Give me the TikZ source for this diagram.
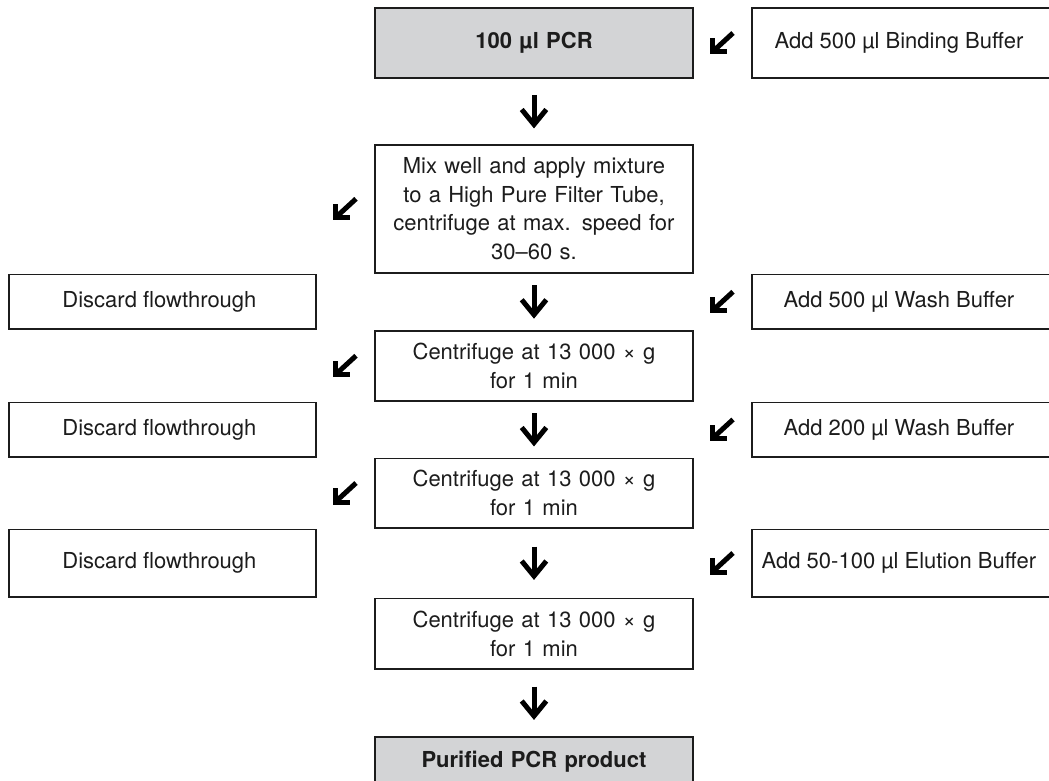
\documentclass[tikz,border=0pt]{standalone}
\usepackage{fontspec}
\setmainfont{TeX Gyre Heros}
\usetikzlibrary{matrix}
\definecolor{pcrgrey}{RGB}{211,212,214}
\definecolor{inkblack}{RGB}{28,28,28}
\newcommand\stepfont{\fontsize{22pt}{28.5pt}\selectfont}
\tikzset{
    stepbox/.style={draw=inkblack, line width=1.8pt},
    endbox/.style={stepbox, fill=pcrgrey, font={\stepfont\bfseries}},
    arrowstroke/.style={draw=black, line width=5pt, line join=miter}
}
\def\DownArrow#1{
    \draw[arrowstroke] ([yshift=16.5pt]#1) -- ([yshift=-11pt]#1);
    \draw[arrowstroke] ([shift={(-12.3pt,2pt)}]#1) -- ([yshift=-13pt]#1) -- ([shift={(12.3pt,2pt)}]#1);
}
\def\SlantArrow#1{
    \draw[arrowstroke] ([shift={(10.5pt,10pt)}]#1) -- ([shift={(-8pt,-7pt)}]#1);
    \draw[arrowstroke] ([shift={(4pt,-9pt)}]#1) -- ([shift={(-10pt,-9pt)}]#1) -- ([shift={(-10pt,5pt)}]#1);
}
\def\Protocol{
    \matrix (flow)
    [matrix of nodes,
    nodes in empty cells,
    ampersand replacement=\&,
    anchor=north west,
    inner sep=0pt, outer sep=0pt,
    column sep={0pt},
    row sep={0pt},
    nodes={outer sep=0pt, inner sep=4pt, anchor=center, align=center, text=inkblack, font=\stepfont},
    column 1/.style={nodes={minimum width=307pt}},
    column 2/.style={nodes={minimum width=57.2pt}},
    column 3/.style={nodes={minimum width=318pt, text width=304pt}},
    column 4/.style={nodes={minimum width=57.2pt}},
    column 5/.style={nodes={minimum width=300pt}},
    row 1/.style={nodes={minimum height=70pt}},
    row 2/.style={nodes={minimum height=65.2pt}},
    row 3/.style={nodes={minimum height=127.6pt}},
    row 4/.style={nodes={minimum height=54.7pt}},
    row 5/.style={nodes={minimum height=69.7pt}},
    row 6/.style={nodes={minimum height=54.2pt}},
    row 7/.style={nodes={minimum height=69.2pt}},
    row 8/.style={nodes={minimum height=67.2pt}},
    row 9/.style={nodes={minimum height=70.6pt}},
    row 10/.style={nodes={minimum height=66.2pt}},
    row 11/.style={nodes={minimum height=50pt}} ]
    at (8.1pt,-7.1pt)
    {
     \& \& |[endbox]| 100 µl PCR \& \& |[stepbox]| Add 500 µl Binding Buffer \\
     \& \& \& \& \\
     \& \& |[stepbox]| {Mix well and apply mixture\\ to a High Pure Filter Tube,\\ centrifuge at max. speed for\\ 30–60 s.} \& \& \\
     |[stepbox]| Discard flowthrough \& \& \& \& |[stepbox]| Add 500 µl Wash Buffer \\
     \& \& |[stepbox]| {Centrifuge at 13 000 × g\\ for 1 min} \& \& \\
     |[stepbox]| Discard flowthrough \& \& \& \& |[stepbox]| Add 200 µl Wash Buffer \\
     \& \& |[stepbox]| {Centrifuge at 13 000 × g\\ for 1 min} \& \& \\
     |[stepbox]| Discard flowthrough \& \& \& \& |[stepbox]| Add 50-100 µl Elution Buffer \\
     \& \& |[stepbox]| {Centrifuge at 13 000 × g\\ for 1 min} \& \& \\
     \& \& \& \& \\
     \& \& |[endbox]| Purified PCR product \& \& \\
};
}

\begin{document}
\begin{tikzpicture}
    \useasboundingbox (0,0) rectangle (1049pt,-781pt);
    \Protocol

    \DownArrow{flow-2-3.center}
    \DownArrow{flow-4-3.center}
    \DownArrow{flow-6-3.center}
    \DownArrow{flow-8-3.center}
    \DownArrow{flow-10-3.center}

    \SlantArrow{flow-1-4.center}
    \SlantArrow{flow-4-4.center}
    \SlantArrow{flow-6-4.center}
    \SlantArrow{flow-8-4.center}

    \SlantArrow{flow-3-2.center}
    \SlantArrow{flow-5-2.center}
    \SlantArrow{flow-7-2.center}
\end{tikzpicture}
\end{document}
